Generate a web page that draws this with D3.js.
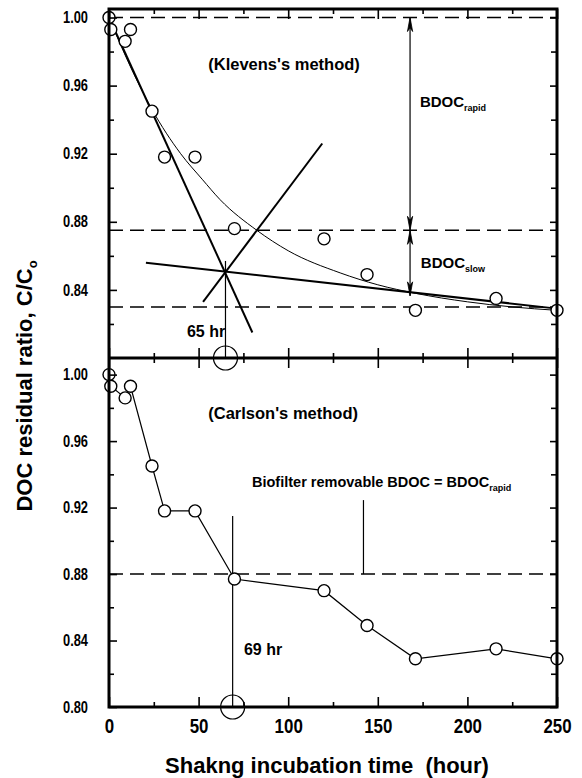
<!DOCTYPE html>
<html><head><meta charset="utf-8">
<script src="https://cdn.jsdelivr.net/npm/d3@7"></script>
<style>
html,body{margin:0;padding:0;background:#fff;}
svg{display:block;font-family:"Liberation Sans",Arial,Helvetica,sans-serif;font-weight:bold;}
</style></head><body><svg id="c" width="582" height="778"></svg>
<script>
// ---------- data ----------
const timeHr      = [0, 1, 9, 12, 24, 31, 48, 70, 120, 144, 171, 216, 250];
const ratioTop    = [1.000, 0.993, 0.986, 0.993, 0.945, 0.918, 0.918, 0.876, 0.870, 0.849, 0.828, 0.835, 0.828];
const ratioBottom = [1.000, 0.993, 0.986, 0.993, 0.945, 0.918, 0.918, 0.877, 0.870, 0.849, 0.829, 0.835, 0.829];
// fitted first-order curve
const fitT = [0, 12, 24, 40, 52, 62, 82.5, 100, 129, 150, 171, 200, 225, 250];
const fitC = [1.000, 0.971, 0.946, 0.920, 0.905, 0.893, 0.875, 0.863, 0.850, 0.843, 0.838, 0.833, 0.830, 0.828];
// Klevens construction lines
const rapidT = [0, 80],     rapidC = [1.000, 0.815];
const slowT  = [20.6, 250], slowC  = [0.856, 0.829];
const crossT = [52.5, 119], crossC = [0.833, 0.926];
const dashTop = [1.00, 0.875, 0.83];
const dashBottom = [0.88];
const xTicksMajor = [0, 50, 100, 150, 200, 250];
const xTicksMinor = [25, 75, 125, 175, 225];
const yTopMajor = [0.84, 0.88, 0.92, 0.96, 1.00];
const yBotMajor = [0.80, 0.84, 0.88, 0.92, 0.96, 1.00];
const yMinor = [0.82, 0.86, 0.90, 0.94, 0.98];
const kTime = 65, cTime = 69, arrowTime = 168, bioTime = 142;

// ---------- layout ----------
const X0 = 109, X1 = 557, YT = 9, YM = 358, YB = 707;
const svg = d3.select('#c');
const x = d3.scaleLinear().domain([0, 250]).range([X0, X1]);
const yTop = d3.scaleLinear().domain([0.80, 1.005]).range([YM, YT]);
const yBot = d3.scaleLinear().domain([0.80, 1.01]).range([YB, YM]);
const pts = (ts, cs) => ts.map((t, i) => [t, cs[i]]);

function styleAxis(g) {
  g.select('.domain').remove();
  g.selectAll('.tick line').attr('stroke', '#000').attr('stroke-width', 1.6);
}

// y axes
function yAxes(y, major, labeled) {
  const gl = svg.append('g').attr('transform', `translate(${X0},0)`)
    .call(d3.axisLeft(y).tickValues(major).tickSize(-8).tickPadding(21)
      .tickFormat(labeled ? d3.format('.2f') : ''));
  styleAxis(gl);
  gl.selectAll('text').attr('font-size', 16).attr('font-family', '"Liberation Sans",Arial,sans-serif')
    .attr('font-weight', 'bold').attr('fill', '#000')
    .attr('textLength', 25).attr('lengthAdjust', 'spacingAndGlyphs');
  styleAxis(svg.append('g').attr('transform', `translate(${X0},0)`)
    .call(d3.axisLeft(y).tickValues(yMinor).tickSize(-5).tickFormat('')));
  styleAxis(svg.append('g').attr('transform', `translate(${X1},0)`)
    .call(d3.axisRight(y).tickValues(major).tickSize(-7).tickFormat('')));
  styleAxis(svg.append('g').attr('transform', `translate(${X1},0)`)
    .call(d3.axisRight(y).tickValues(yMinor).tickSize(-6).tickFormat('')));
}

// ---------- top panel marks ----------
const lineT = d3.line().x(d => x(d[0])).y(d => yTop(d[1]));
const lineB = d3.line().x(d => x(d[0])).y(d => yBot(d[1]));

svg.append('g').selectAll('line').data(dashTop).join('line')
  .attr('x1', X0).attr('x2', X1).attr('y1', d => yTop(d)).attr('y2', d => yTop(d))
  .attr('stroke', '#000').attr('stroke-width', 1.4).attr('stroke-dasharray', '14,7');

svg.append('path').attr('d', d3.line().x(d => x(d[0])).y(d => yTop(d[1])).curve(d3.curveMonotoneX)(pts(fitT, fitC)))
  .attr('fill', 'none').attr('stroke', '#000').attr('stroke-width', 1);

[[rapidT, rapidC], [slowT, slowC], [crossT, crossC]].forEach(([t, c]) => {
  svg.append('path').attr('d', lineT(pts(t, c))).attr('fill', 'none')
    .attr('stroke', '#000').attr('stroke-width', 2);
});

// 65 hr vertical
svg.append('line').attr('x1', x(kTime)).attr('x2', x(kTime))
  .attr('y1', yTop(0.857)).attr('y2', YM).attr('stroke', '#000').attr('stroke-width', 1.2);
svg.append('circle').attr('cx', x(kTime)).attr('cy', YM).attr('r', 12)
  .attr('fill', 'none').attr('stroke', '#000').attr('stroke-width', 1.2);

// BDOC arrows
const ax = x(arrowTime);
svg.append('line').attr('x1', ax).attr('x2', ax).attr('y1', yTop(1.0)).attr('y2', yTop(0.8365))
  .attr('stroke', '#000').attr('stroke-width', 1.2);
function arrowHead(xp, yp, dir) { // dir = -1 up, +1 down (tip at yp)
  const L = 14, w = 2.6;
  svg.append('path').attr('d', `M${xp},${yp} L${xp - w},${yp - dir * L} L${xp},${yp - dir * (L - 4)} L${xp + w},${yp - dir * L} Z`)
    .attr('fill', '#000').attr('stroke', '#000').attr('stroke-width', 0.8);
}
arrowHead(ax, yTop(1.0), -1);
arrowHead(ax, yTop(0.875), 1);
arrowHead(ax, yTop(0.875), -1);
arrowHead(ax, yTop(0.8365), 1);

// top circles
svg.append('g').selectAll('circle').data(pts(timeHr, ratioTop)).join('circle')
  .attr('cx', d => x(d[0])).attr('cy', d => yTop(d[1])).attr('r', 6)
  .attr('fill', '#fff').attr('stroke', '#000').attr('stroke-width', 1.4);

// ---------- bottom panel marks ----------
svg.append('g').selectAll('line').data(dashBottom).join('line')
  .attr('x1', X0).attr('x2', X1).attr('y1', d => yBot(d)).attr('y2', d => yBot(d))
  .attr('stroke', '#000').attr('stroke-width', 1.4).attr('stroke-dasharray', '14,7');

svg.append('line').attr('x1', x(bioTime)).attr('x2', x(bioTime))
  .attr('y1', yBot(0.9245)).attr('y2', yBot(0.88)).attr('stroke', '#000').attr('stroke-width', 1.2);
svg.append('line').attr('x1', x(cTime)).attr('x2', x(cTime))
  .attr('y1', yBot(0.915)).attr('y2', YB).attr('stroke', '#000').attr('stroke-width', 1.2);
svg.append('circle').attr('cx', x(cTime)).attr('cy', YB).attr('r', 12)
  .attr('fill', 'none').attr('stroke', '#000').attr('stroke-width', 1.2);

svg.append('path').attr('d', lineB(pts(timeHr, ratioBottom))).attr('fill', 'none')
  .attr('stroke', '#000').attr('stroke-width', 1.2);
svg.append('g').selectAll('circle').data(pts(timeHr, ratioBottom)).join('circle')
  .attr('cx', d => x(d[0])).attr('cy', d => yBot(d[1])).attr('r', 6)
  .attr('fill', '#fff').attr('stroke', '#000').attr('stroke-width', 1.4);

// ---------- axes & frame ----------
yAxes(yTop, yTopMajor, true);
yAxes(yBot, yBotMajor, true);

function xAxis(yPos, gen, size, vals) {
  const g = svg.append('g').attr('transform', `translate(0,${yPos})`)
    .call(gen(x).tickValues(vals).tickSize(size).tickFormat(''));
  styleAxis(g);
}
// top frame ticks (down)
xAxis(YT, d3.axisTop, -10, xTicksMajor); xAxis(YT, d3.axisTop, -5, xTicksMinor);
// middle: up and down
xAxis(YM, d3.axisBottom, -10, xTicksMajor); xAxis(YM, d3.axisBottom, -5, xTicksMinor);
xAxis(YM, d3.axisTop, -10, xTicksMajor); xAxis(YM, d3.axisTop, -5, xTicksMinor);
// bottom: up with labels
const gb = svg.append('g').attr('transform', `translate(0,${YB})`)
  .call(d3.axisBottom(x).tickValues(xTicksMajor).tickSize(-10).tickPadding(12).tickFormat(d3.format('d')));
styleAxis(gb);
gb.selectAll('text').attr('font-size', 20).attr('font-family', '"Liberation Sans",Arial,sans-serif')
  .attr('font-weight', 'bold').attr('fill', '#000')
  .attr('textLength', d => String(d).length * 9.4).attr('lengthAdjust', 'spacingAndGlyphs');
xAxis(YB, d3.axisBottom, -5, xTicksMinor);

svg.append('path').attr('d', `M${X0},${YT}H${X1}V${YB}H${X0}Z M${X0},${YM}H${X1}`)
  .attr('fill', 'none').attr('stroke', '#000').attr('stroke-width', 3);

// ---------- text ----------
function label(xp, yp, main, sub, size, subSize) {
  const t = svg.append('text').attr('x', xp).attr('y', yp).attr('font-size', size).attr('fill', '#000')
    .style('white-space', 'pre');
  t.append('tspan').text(main);
  if (sub) t.append('tspan').attr('font-size', subSize).attr('dy', 4).text(sub);
  return t;
}
label(x(55.4), yTop(0.969), "(Klevens's method)", null, 16.5);
label(x(173.5), yTop(0.9474), 'BDOC', 'rapid', 15, 9);
label(x(174), yTop(0.853), 'BDOC', 'slow', 15, 9);
label(x(43.5), yTop(0.8123), '65 hr', null, 16);
label(x(55.4), yBot(0.9733), "(Carlson's method)", null, 16.5);
label(x(79.8), yBot(0.9324), 'Biofilter removable BDOC = BDOC', 'rapid', 14.5, 9);
label(x(75.3), yBot(0.8313), '69 hr', null, 16);

// axis titles
svg.append('text').attr('x', 327).attr('y', 773).attr('text-anchor', 'middle')
  .attr('font-size', 22).style('white-space', 'pre').text('Shakng incubation time  (hour)');
const yl = svg.append('text').attr('transform', 'translate(32,386) rotate(-90)')
  .attr('text-anchor', 'middle').attr('font-size', 22);
yl.append('tspan').text('DOC residual ratio, C/C');
yl.append('tspan').attr('font-size', 13).attr('dy', 5).text('o');
</script></body></html>
